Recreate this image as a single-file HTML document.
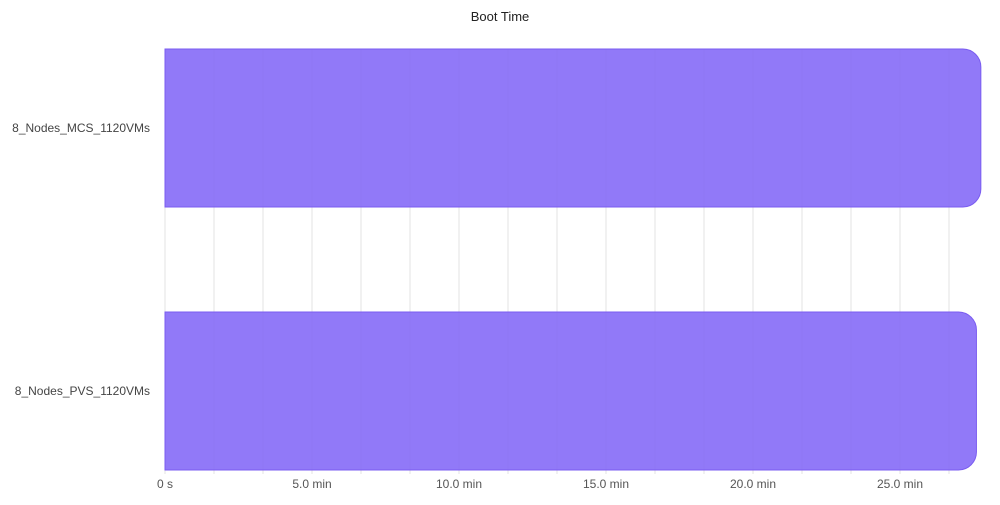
<!DOCTYPE html>
<html><head><meta charset="utf-8"><style>
body{margin:0;background:#fff;font-family:"Liberation Sans",sans-serif;}
svg text{font-family:"Liberation Sans",sans-serif;}
</style></head><body>
<svg width="1000" height="500">
<text x="500" y="21" text-anchor="middle" font-size="13" fill="#222">Boot Time</text>
<g id="grid"></g>
<g id="bars"></g>
<g id="xaxis"></g>
<g id="yaxis"></g>
</svg>
<script>
const categories = ["8_Nodes_MCS_1120VMs", "8_Nodes_PVS_1120VMs"];
const bootMinutes = [27.75, 27.6];
const tickValues = [0, 5, 10, 15, 20, 25];
const tickLabels = ["0 s", "5.0 min", "10.0 min", "15.0 min", "20.0 min", "25.0 min"];
const ns = "http://www.w3.org/2000/svg";
const x0 = 165, pxPerMin = 29.4, plotTop = 49, plotBottom = 469, xMax = 28;
const xs = v => x0 + v * pxPerMin;
const bandH = (plotBottom - plotTop + 105) / categories.length;
function mk(tag, attrs, parent) { const e = document.createElementNS(ns, tag); for (const k in attrs) e.setAttribute(k, attrs[k]); parent.appendChild(e); return e; }
const grid = document.getElementById('grid');
for (let v = 0; v <= xMax; v += 5/3) {
  const l = mk('line', {x1: xs(v), x2: xs(v), y1: plotTop, y2: plotBottom + 5, stroke: '#e3e3e3', 'stroke-width': 1}, grid);
  
  
}
const bars = document.getElementById('bars');
const yaxis = document.getElementById('yaxis');
categories.forEach((c, i) => {
  const top = plotTop + i * 263, h = 158;
  const w = xs(bootMinutes[i]) - x0, r = 18;
  const d = `M${x0},${top} H${x0 + w - r} A${r},${r} 0 0 1 ${x0 + w},${top + r} V${top + h - r} A${r},${r} 0 0 1 ${x0 + w - r},${top + h} H${x0} Z`;
  const p = mk('path', {d: d, fill: 'rgba(130,102,247,0.88)', stroke: '#7a5cf0', 'stroke-width': 1}, bars);
  
  
  const t = mk('text', {x: 150, y: top + h / 2 + 4, 'text-anchor': 'end', 'font-size': 12, fill: '#444'}, yaxis);
  t.textContent = c;
  
  
});
const xaxis = document.getElementById('xaxis');
tickValues.forEach((v, i) => {
  const t = mk('text', {x: xs(v), y: 488, 'text-anchor': 'middle', 'font-size': 12, fill: '#555'}, xaxis);
  t.textContent = tickLabels[i];
  
  
});
</script>
</body></html>
